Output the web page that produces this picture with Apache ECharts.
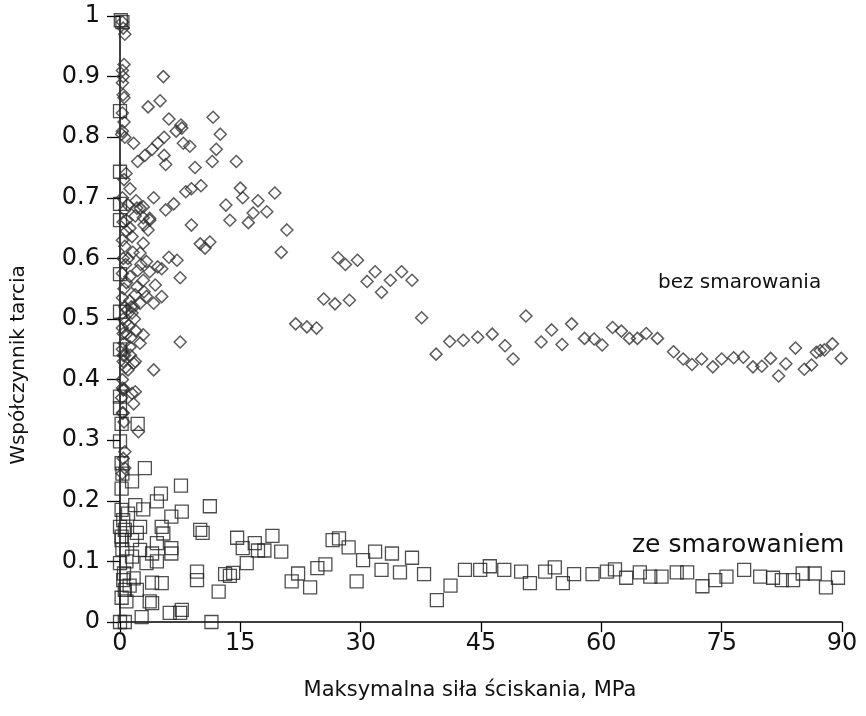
<!DOCTYPE html>
<html>
<head>
<meta charset="utf-8">
<script src="https://cdn.jsdelivr.net/npm/echarts@6/dist/echarts.min.js"></script>
<style>
html,body{margin:0;padding:0;background:#fff;}
#chart{width:866px;height:716px;}
</style>
</head>
<body>
<div id="chart"></div>
<script>
// ---- data ----
var xTicks = [0, 15, 30, 45, 60, 75, 90];
var yTicks = [0, 0.1, 0.2, 0.3, 0.4, 0.5, 0.6, 0.7, 0.8, 0.9, 1];
var seriesNames = ['bez smarowania', 'ze smarowaniem'];

// bez smarowania (diamonds): [MPa, coefficient]
var bezSmarowania = [
  [0.3,0.99],[0.4,0.98],[0.6,0.97],[0.5,0.92],[0.3,0.91],[0.4,0.90],[0.3,0.89],[0.4,0.87],[0.5,0.865],
  [0.3,0.84],[0.5,0.825],[0.3,0.81],[0.6,0.80],[0.2,0.805],[1.7,0.79],
  [5.4,0.90],[5.0,0.86],[3.5,0.85],[6.1,0.83],[7.6,0.82],[7.7,0.815],[7.0,0.81],[5.5,0.80],[7.9,0.79],
  [8.7,0.785],[11.6,0.833],[12.5,0.805],[12.0,0.78],[4.7,0.79],[4.0,0.78],[3.1,0.77],[2.2,0.76],
  [0.75,0.74],[5.5,0.77],[5.7,0.755],[9.35,0.75],[11.5,0.76],[14.5,0.76],[10.1,0.72],[1.25,0.715],
  [8.2,0.71],[8.9,0.715],[6.7,0.69],[4.2,0.70],[5.7,0.68],[2.0,0.695],[2.5,0.683],[1.9,0.67],
  [2.9,0.667],[3.7,0.663],[3.0,0.655],[3.5,0.647],[1.25,0.65],[8.9,0.655],[15.0,0.716],[15.3,0.70],
  [13.2,0.688],[13.7,0.663],[16.0,0.659],[16.6,0.675],[17.2,0.695],[18.3,0.677],[19.3,0.708],
  [20.8,0.647],[20.1,0.61],[10.0,0.624],[11.2,0.627],[10.6,0.617],[7.5,0.568],[7.5,0.462],[4.2,0.416],
  [27.2,0.601],[28.1,0.59],[29.6,0.597],[31.8,0.578],[30.8,0.562],[33.7,0.564],[32.6,0.544],
  [35.1,0.578],[36.4,0.564],[25.4,0.533],[26.8,0.525],[28.6,0.531],[21.9,0.492],[23.3,0.487],
  [24.5,0.485],[37.6,0.502],[39.4,0.442],[41.1,0.463],[42.8,0.465],[44.6,0.47],[46.4,0.475],
  [48.0,0.456],[49.0,0.434],[50.6,0.505],[52.5,0.462],[53.8,0.482],[55.1,0.458],[56.3,0.492],
  [57.9,0.468],[59.1,0.467],[60.1,0.457],[61.4,0.486],[62.5,0.48],[63.5,0.468],[64.5,0.468],
  [65.6,0.476],[67.0,0.468],[69.0,0.446],[70.2,0.434],[71.3,0.425],[72.5,0.434],[73.9,0.421],
  [75.0,0.434],[76.5,0.436],[77.7,0.437],[78.9,0.421],[80.0,0.422],[81.1,0.435],[82.1,0.406],
  [83.0,0.426],[84.2,0.452],[85.3,0.417],[86.2,0.424],[86.8,0.445],[87.3,0.448],[87.8,0.449],
  [88.8,0.459],[89.9,0.435],
  [7.1,0.597],[6.1,0.602],[5.2,0.583],[4.7,0.586],[4.4,0.556],[5.2,0.537],[4.2,0.526],[2.9,0.625],
  [1.5,0.636],[2.5,0.609],[3.3,0.595],[3.7,0.578],[2.9,0.564],[2.1,0.553],[1.25,0.57],[3.3,0.537],
  [2.5,0.526],[1.7,0.52],[2.9,0.474],[2.5,0.46],[1.7,0.427],[1.25,0.454],[0.4,0.476],[1.0,0.688],
  [2.1,0.683],[0.8,0.663],[3.7,0.666],[2.9,0.685],[1.5,0.377],[0.4,0.383],[1.9,0.38],[1.7,0.36],
  [2.3,0.314],[0.6,0.281],[0.6,0.254],[0.3,0.345],[0.3,0.386],[1.9,0.43],[1.0,0.416],[0.4,0.44],
  [0.5,0.73],[0.3,0.70],[0.6,0.68],[0.4,0.66],[0.8,0.645],[0.3,0.63],[0.6,0.62],[0.4,0.60],
  [0.7,0.59],[0.3,0.575],[0.8,0.56],[0.5,0.55],[0.3,0.535],[0.6,0.52],[0.9,0.515],[0.4,0.50],
  [0.7,0.495],[0.3,0.485],[0.8,0.475],[0.5,0.46],[0.3,0.45],[0.6,0.44],[0.4,0.43],[0.7,0.42],
  [0.3,0.40],[0.5,0.385],[0.2,0.37],[0.4,0.345],[0.5,0.33],[0.4,0.27],[0.3,0.245],
  [1.0,0.60],[1.2,0.53],[1.5,0.51],[1.1,0.49],[1.4,0.47],[1.8,0.50],[2.0,0.48],[1.3,0.44],
  [2.2,0.58],[1.6,0.61],[2.6,0.59],[3.0,0.545],[1.4,0.52],[1.9,0.54]
];

// ze smarowaniem (squares): [MPa, coefficient]
var zeSmarowaniem = [
  [0.1,0.993],[0.3,0.99],[0,0.843],[0,0.743],[0,0.69],[0,0.663],[0,0.574],[0,0.512],[0,0.45],
  [0,0.372],[0,0.353],[0.2,0.327],[2.2,0.327],[0,0.298],[3.1,0.254],[0.2,0.262],[0.3,0.245],
  [1.5,0.232],[0.2,0.22],[7.6,0.225],[5.1,0.212],[4.6,0.199],[11.2,0.191],[1.9,0.193],[2.9,0.186],
  [7.7,0.182],[6.4,0.174],[0.4,0.168],[0.0,0.157],[2.5,0.157],[5.2,0.157],[10.0,0.152],[10.3,0.147],
  [14.6,0.139],[16.8,0.13],[19.0,0.142],[15.3,0.122],[17.2,0.118],[18.0,0.118],[20.1,0.116],
  [15.8,0.097],[13.1,0.079],[13.7,0.076],[14.1,0.081],[9.6,0.083],[9.6,0.069],[12.3,0.05],
  [6.4,0.122],[4.6,0.13],[4.0,0.113],[2.5,0.119],[1.5,0.108],[0.0,0.097],[0.8,0.1],[3.3,0.097],
  [4.6,0.1],[0.4,0.069],[1.7,0.072],[4.0,0.065],[5.2,0.064],[0.6,0.053],[2.1,0.053],[0.8,0.034],
  [3.7,0.034],[4.0,0.031],[6.2,0.015],[7.7,0.02],[7.5,0.015],[2.7,0.008],[11.4,0.0],[0,0],[0.6,0.0],
  [0.2,0.141],[0.6,0.152],[0.2,0.135],[1.5,0.135],[2.1,0.147],[5.4,0.146],[1.0,0.179],[0.2,0.185],
  [6.4,0.113],[0.3,0.12],[0.5,0.08],[1.2,0.06],[0.2,0.04],
  [21.4,0.067],[22.2,0.08],[23.7,0.057],[24.6,0.089],[25.6,0.095],[26.5,0.135],[27.3,0.138],
  [28.5,0.123],[30.3,0.102],[31.8,0.116],[29.5,0.067],[32.6,0.086],[33.9,0.113],[34.9,0.082],
  [36.4,0.106],[37.9,0.079],[39.5,0.036],[41.2,0.06],[43.0,0.086],[44.9,0.086],[46.1,0.092],
  [47.9,0.086],[50.0,0.083],[51.1,0.064],[53.0,0.083],[54.2,0.09],[55.2,0.064],[56.6,0.079],
  [58.9,0.079],[60.7,0.083],[61.7,0.087],[63.1,0.073],[64.8,0.082],[66.1,0.075],[67.5,0.075],
  [69.4,0.082],[70.7,0.082],[72.6,0.059],[74.2,0.069],[75.6,0.075],[77.8,0.086],[79.8,0.075],
  [81.4,0.073],[82.5,0.069],[83.9,0.069],[85.1,0.08],[86.6,0.08],[88.0,0.057],[89.5,0.073]
];

var chart = echarts.init(document.getElementById('chart'), null, {renderer: 'canvas'});
var FONT = '"DejaVu Sans", "Liberation Sans", Arial, sans-serif';

chart.setOption({
  backgroundColor: '#fff',
  animation: false,
  grid: {left: 120, right: 24, top: 16, bottom: 94, containLabel: false, outerBoundsMode: 'none'},
  xAxis: {
    type: 'value', min: xTicks[0], max: xTicks[xTicks.length - 1], interval: 15,
    name: 'Maksymalna siła ściskania, MPa', nameLocation: 'middle', nameGap: 58,
    nameTextStyle: {fontFamily: FONT, fontSize: 21, color: '#111', padding: [0, 22, 0, 0]},
    axisLine: {onZero: false, lineStyle: {color: '#000', width: 1.5}},
    axisTick: {show: true, inside: false, length: 10, lineStyle: {color: '#000', width: 1.3}},
    axisLabel: {fontFamily: FONT, fontSize: 24, color: '#111', margin: 10},
    splitLine: {show: false}
  },
  yAxis: {
    type: 'value', min: yTicks[0], max: yTicks[yTicks.length - 1], interval: 0.1,
    name: 'Współczynnik tarcia', nameLocation: 'middle', nameGap: 91,
    nameTextStyle: {fontFamily: FONT, fontSize: 20, color: '#111', padding: [0, 92, 0, 0]},
    axisLine: {onZero: false, lineStyle: {color: '#000', width: 1.5}},
    axisTick: {show: true, inside: false, length: 13, lineStyle: {color: '#000', width: 1.3}},
    axisLabel: {fontFamily: FONT, fontSize: 24, color: '#111', margin: 20},
    splitLine: {show: false}
  },
  series: [
    {
      name: seriesNames[0], type: 'scatter', data: bezSmarowania, clip: false,
      symbol: 'diamond', symbolSize: [12, 12],
      itemStyle: {color: 'rgba(0,0,0,0)', borderColor: '#333', borderWidth: 1.5}
    },
    {
      name: seriesNames[1], type: 'scatter', data: zeSmarowaniem, clip: false,
      symbol: 'rect', symbolSize: [13, 13],
      itemStyle: {color: 'rgba(0,0,0,0)', borderColor: '#222', borderWidth: 1.3}
    }
  ],
  graphic: [
    {type: 'text', left: 658, top: 273, style: {text: seriesNames[0], font: '20px ' + FONT, fill: '#111'}},
    {type: 'text', left: 632, top: 533, style: {text: seriesNames[1], font: '25px ' + FONT, fill: '#111'}}
  ]
});
</script>
</body>
</html>
